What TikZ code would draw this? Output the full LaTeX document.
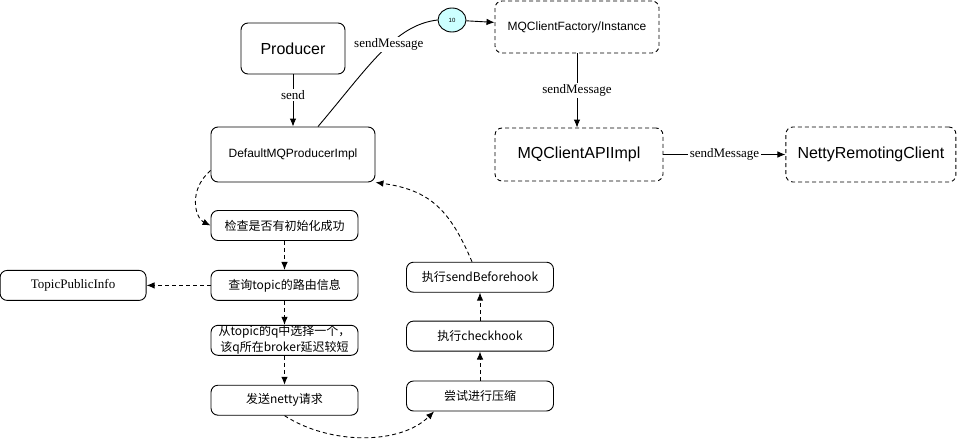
\documentclass[tikz,border=0pt]{standalone}
\usepackage{fontspec}
\setmainfont{Liberation Serif}
\setsansfont{Liberation Sans}
\newfontfamily\cjk{Noto Sans CJK SC}
\usetikzlibrary{arrows.meta,positioning,shapes.geometric}
\definecolor{badgefill}{HTML}{CCFFFF}

\begin{document}
\begin{tikzpicture}[
  x=1pt, y=-1pt,
  line width=0.9pt,
  box/.style={rectangle, draw, rounded corners=7pt, align=center, font=\sffamily\fontsize{12}{14}\selectfont},
  bigbox/.style={box, font=\sffamily\fontsize{16}{18}\selectfont},
  dbox/.style={box, dash pattern=on 4pt off 3pt},
  stepbox/.style={box, font=\cjk\fontsize{12}{16}\selectfont, minimum width=147pt, minimum height=30pt},
  arr/.style={-{Latex[length=8pt,width=6.5pt]}},
  darr/.style={arr, dash pattern=on 4pt off 3pt},
  lbl/.style={fill=white, inner sep=1.5pt, font=\fontsize{13}{15}\selectfont}
]
\useasboundingbox (0,0) rectangle (957,439);

\node[bigbox, minimum width=104pt, minimum height=51pt] (producer) at (293,48.5) {Producer};
\node[box, minimum width=164pt, minimum height=55pt] (impl) at (293,154.5) {DefaultMQProducerImpl};
\node[ellipse, draw, fill=badgefill, minimum width=28pt, minimum height=24pt, inner sep=0pt, font=\sffamily\fontsize{6}{7}\selectfont] (badge) at (452,20) {10};
\node[dbox, minimum width=164pt, minimum height=52pt] (factory) at (577,27) {MQClientFactory/Instance};
\node[bigbox, dbox, font=\sffamily\fontsize{16}{18}\selectfont, minimum width=168pt, minimum height=53pt] (api) at (579,154.5) {MQClientAPIImpl};
\node[bigbox, dbox, font=\sffamily\fontsize{16}{18}\selectfont, minimum width=170pt, minimum height=55pt, right=122pt of api] (netty) {NettyRemotingClient};

\node[stepbox] (check) at (284.5,225.5) {检查是否有初始化成功};
\node[stepbox, below=29pt of check] (route) {查询topic的路由信息};
\node[stepbox, inner ysep=0pt, below=24pt of route] (select) {从topic的q中选择一个，\\该q所在broker延迟较短};
\node[stepbox, below=29pt of select] (request) {发送netty请求};
\node[box, font=\fontsize{13}{15}\selectfont, minimum width=146pt, minimum height=30pt, left=64pt of route] (topicinfo) {TopicPublicInfo};

\node[stepbox] (compress) at (480,396) {尝试进行压缩};
\node[stepbox, above=29pt of compress] (checkhook) {执行checkhook};
\node[stepbox, above=28pt of checkhook] (before) {执行sendBeforehook};

\draw[arr] (producer) -- node[lbl, pos=0.4] {send} (impl);
\draw ([xshift=25pt]impl.north) .. controls (370,65) and (395,25) .. node[lbl, pos=0.57] {sendMessage} (badge.west);
\draw[arr] (badge) -- (factory);
\draw[arr] (factory.south) -- node[lbl] {sendMessage} (factory.south |- api.north);
\draw[arr] (api) -- node[lbl] {sendMessage} (netty);

\draw[darr] ([yshift=12pt]impl.south west) .. controls (188,190) and (195,218) .. (check.west);
\draw[darr] (check) -- (route);
\draw[darr] (route) -- (topicinfo);
\draw[darr] (route) -- (select);
\draw[darr] (select) -- (request);
\draw[darr] (request.south) .. controls (330,445) and (400,445) .. ([xshift=28pt]compress.south west);
\draw[darr] (compress) -- (checkhook);
\draw[darr] (checkhook) -- (before);
\draw[darr] ([xshift=-8pt]before.north) .. controls (450,210) and (430,190) .. (impl.south east);
\end{tikzpicture}
\end{document}
